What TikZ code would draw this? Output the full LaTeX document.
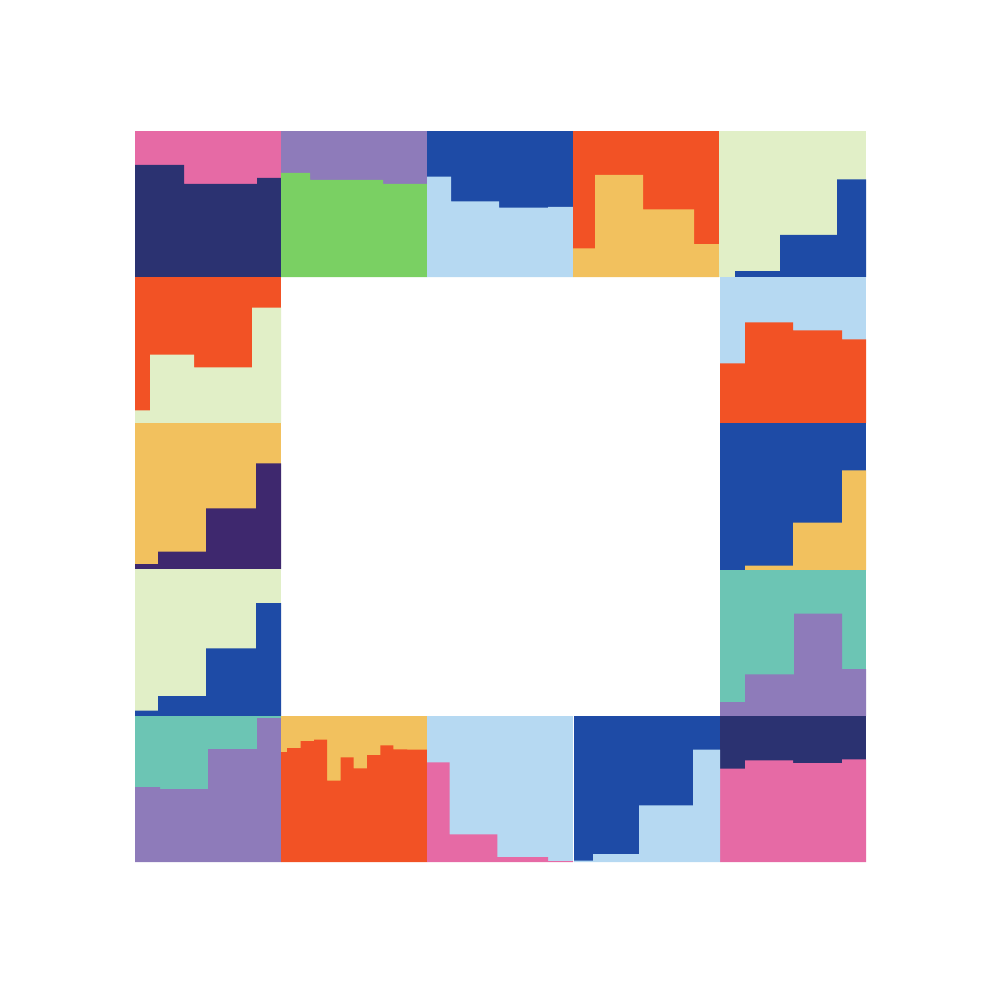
\documentclass[tikz,border=0pt]{standalone}
\definecolor{cpink}{HTML}{E66AA5}
\definecolor{cnavy}{HTML}{2B3271}
\definecolor{cpurple}{HTML}{8E7BBA}
\definecolor{cgreen}{HTML}{7AD063}
\definecolor{cblue}{HTML}{1E4BA6}
\definecolor{clblue}{HTML}{B6D9F2}
\definecolor{corange}{HTML}{F25225}
\definecolor{cyellow}{HTML}{F2C15E}
\definecolor{clgreen}{HTML}{E1EFC7}
\definecolor{cteal}{HTML}{6CC5B4}
\definecolor{cdpurple}{HTML}{3E286E}
\begin{document}
\begin{tikzpicture}[x=1pt,y=-1pt]
\useasboundingbox[fill=white] (0,0) rectangle (1000,1000);
% ---- top row ----
\fill[cpink] (135,131) rectangle (281,277);
\fill[cnavy] (135,277) -- (135,165) -- (184,165) -- (184,184) -- (257,184) -- (257,178) -- (281,178) -- (281,277) -- cycle;
\fill[cpurple] (281,131) rectangle (427,277);
\fill[cgreen] (281,277) -- (281,173) -- (310,173) -- (310,180) -- (383,180) -- (383,184) -- (427,184) -- (427,277) -- cycle;
\fill[cblue] (427,131) rectangle (573,277);
\fill[clblue] (427,277) -- (427,176.7) -- (451,176.7) -- (451,201.3) -- (499,201.3) -- (499,207.7) -- (548,207.7) -- (548,207) -- (573,207) -- (573,277) -- cycle;
\fill[corange] (573,131) rectangle (719,277);
\fill[cyellow] (573,277) -- (573,248.3) -- (595,248.3) -- (595,175) -- (643,175) -- (643,209.3) -- (694,209.3) -- (694,244) -- (719,244) -- (719,277) -- cycle;
\fill[clgreen] (719,131) rectangle (866,277);
\fill[cblue] (735,277) -- (735,271) -- (780,271) -- (780,235) -- (837,235) -- (837,179.3) -- (866,179.3) -- (866,277) -- cycle;
% ---- right column ----
\fill[clblue] (720,277) rectangle (866,423);
\fill[corange] (720,423) -- (720,363.3) -- (745,363.3) -- (745,322.3) -- (793,322.3) -- (793,330.3) -- (842,330.3) -- (842,339.3) -- (866,339.3) -- (866,423) -- cycle;
\fill[cblue] (720,423) rectangle (866,570);
\fill[cyellow] (745,570) -- (745,565.7) -- (793,565.7) -- (793,522.7) -- (842,522.7) -- (842,470.3) -- (866,470.3) -- (866,570) -- cycle;
\fill[cteal] (720,570) rectangle (866,716);
\fill[cpurple] (720,716) -- (720,702) -- (745,702) -- (745,674.3) -- (794,674.3) -- (794,613.7) -- (842,613.7) -- (842,669) -- (866,669) -- (866,716) -- cycle;
\fill[cnavy] (720,716) rectangle (866,862);
\fill[cpink] (720,862) -- (720,768.7) -- (745,768.7) -- (745,760.3) -- (793,760.3) -- (793,763) -- (842,763) -- (842,759.3) -- (866,759.3) -- (866,862) -- cycle;
% ---- left column ----
\fill[corange] (135,277) rectangle (281,423);
\fill[clgreen] (135,423) -- (135,410.3) -- (150,410.3) -- (150,354.7) -- (194,354.7) -- (194,367.3) -- (252,367.3) -- (252,307.7) -- (281,307.7) -- (281,423) -- cycle;
\fill[cyellow] (135,423) rectangle (281,569);
\fill[cdpurple] (135,569) -- (135,564) -- (158,564) -- (158,551.7) -- (206,551.7) -- (206,508.3) -- (256,508.3) -- (256,463.3) -- (281,463.3) -- (281,569) -- cycle;
\fill[clgreen] (135,569) rectangle (281,716);
\fill[cblue] (135,716) -- (135,710.7) -- (158,710.7) -- (158,696) -- (206,696) -- (206,648.3) -- (256,648.3) -- (256,603) -- (281,603) -- (281,716) -- cycle;
\fill[cteal] (135,716) rectangle (281,862);
\fill[cpurple] (135,862) -- (135,787) -- (160,787) -- (160,789) -- (208,789) -- (208,749) -- (257,749) -- (257,718) -- (281,718) -- (281,862) -- cycle;
% ---- bottom row ----
\fill[cyellow] (281,716) rectangle (427,862);
\fill[corange] (281,862) -- (281,752) -- (287,752) -- (287,748) -- (300.7,748) -- (300.7,741) -- (314,741) -- (314,739.7) -- (327,739.7) -- (327,780.7) -- (340.7,780.7) -- (340.7,757.3) -- (353.7,757.3) -- (353.7,768.3) -- (367,768.3) -- (367,755) -- (380.3,755) -- (380.3,745.3) -- (393.3,745.3) -- (393.3,749.3) -- (407,749.3) -- (407,749.7) -- (427,749.7) -- (427,862) -- cycle;
\fill[clblue] (427,716) rectangle (573,862);
\fill[cpink] (427,862) -- (427,762.3) -- (449.7,762.3) -- (449.7,834.3) -- (497.3,834.3) -- (497.3,857) -- (548,857) -- (548,861) -- (573,861) -- (573,862) -- cycle;
\fill[cblue] (574,716) rectangle (720,862);
\fill[clblue] (574,862) -- (574,860.7) -- (593,860.7) -- (593,854) -- (639,854) -- (639,805.3) -- (693,805.3) -- (693,749.7) -- (720,749.7) -- (720,862) -- cycle;
\end{tikzpicture}
\end{document}
